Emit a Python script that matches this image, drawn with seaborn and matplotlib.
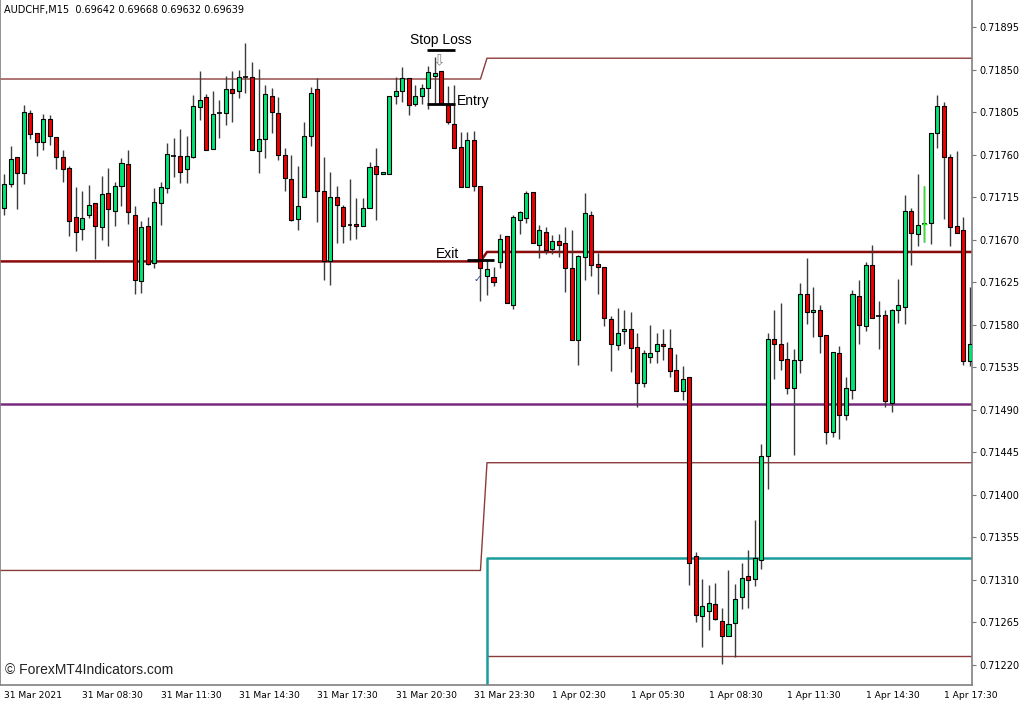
import numpy as np
import pandas as pd
import matplotlib
matplotlib.use("Agg")
import matplotlib.pyplot as plt
import seaborn as sns

# AUDCHF M15 candles, prices in 1e-5 units (71703 -> 0.71703)
opens = [71703, 71729, 71757, 71741, 71804, 71783, 71773, 71798, 71779, 71758,
         71746, 71694, 71681, 71696, 71709, 71683, 71719, 71700, 71727, 71750,
         71696, 71626, 71684, 71645, 71709, 71725, 71759, 71759, 71745, 71758,
         71810, 71821, 71766, 71804, 71804, 71829, 71827, 71842, 71842, 71764,
         71776, 71822, 71804, 71760, 71734, 71692, 71715, 71780, 71829, 71721,
         71647, 71715, 71705, 71685, 71687, 71684, 71704, 71748, 71739, 71740,
         71822, 71827, 71841, 71814, 71822, 71831, 71843, 71848, 71813, 71792,
         71768, 71726, 71775, 71727, 71632, 71631, 71646, 71674, 71601, 71691,
         71693, 71720, 71664, 71678, 71660, 71669, 71666, 71640, 71564, 71652,
         71696, 71644, 71641, 71586, 71559, 71573, 71576, 71556, 71518, 71546,
         71552, 71560, 71555, 71532, 71510, 71525, 71335, 71272, 71277, 71285,
         71266, 71251, 71264, 71292, 71314, 71311, 71331, 71441, 71565, 71560,
         71544, 71513, 71543, 71612, 71593, 71596, 71569, 71466, 71550, 71484,
         71511, 71610, 71579, 71643, 71589, 71590, 71497, 71596, 71599, 71700,
         71676, 71687, 71688, 71783, 71811, 71758, 71684, 71680, 71542]
highs = [71740, 71769, 71757, 71812, 71807, 71783, 71803, 71802, 71779, 71765,
         71748, 71726, 71721, 71728, 71709, 71737, 71746, 71731, 71756, 71765,
         71706, 71690, 71694, 71725, 71731, 71772, 71778, 71787, 71780, 71823,
         71848, 71824, 71827, 71818, 71843, 71849, 71850, 71878, 71858, 71851,
         71834, 71830, 71821, 71767, 71760, 71748, 71795, 71832, 71841, 71757,
         71742, 71727, 71707, 71734, 71714, 71714, 71752, 71767, 71742, 71822,
         71842, 71853, 71841, 71834, 71835, 71854, 71863, 71848, 71833, 71834,
         71784, 71784, 71785, 71727, 71648, 71641, 71676, 71674, 71696, 71700,
         71722, 71720, 71685, 71683, 71675, 71676, 71683, 71680, 71654, 71719,
         71700, 71656, 71641, 71589, 71598, 71596, 71593, 71571, 71553, 71580,
         71571, 71575, 71575, 71549, 71536, 71525, 71340, 71311, 71305, 71307,
         71280, 71320, 71306, 71328, 71342, 71373, 71454, 71571, 71596, 71603,
         71562, 71554, 71624, 71651, 71620, 71601, 71569, 71551, 71557, 71525,
         71617, 71627, 71646, 71664, 71605, 71596, 71597, 71628, 71717, 71704,
         71739, 71727, 71783, 71823, 71816, 71761, 71764, 71694, 71620]
lows = [71696, 71726, 71702, 71729, 71776, 71759, 71765, 71770, 71745, 71731,
        71674, 71658, 71670, 71693, 71650, 71670, 71663, 71684, 71706, 71687,
        71612, 71614, 71643, 71640, 71685, 71719, 71736, 71730, 71730, 71756,
        71797, 71765, 71766, 71778, 71791, 71795, 71820, 71825, 71765, 71741,
        71756, 71783, 71754, 71722, 71690, 71680, 71715, 71769, 71689, 71627,
        71622, 71666, 71666, 71670, 71671, 71684, 71703, 71691, 71739, 71740,
        71814, 71816, 71802, 71811, 71814, 71808, 71814, 71815, 71792, 71767,
        71726, 71726, 71721, 71605, 71611, 71621, 71640, 71603, 71597, 71676,
        71688, 71666, 71651, 71655, 71655, 71652, 71615, 71564, 71537, 71627,
        71632, 71613, 71579, 71531, 71553, 71560, 71530, 71493, 71514, 71539,
        71539, 71543, 71525, 71510, 71500, 71305, 71265, 71239, 71257, 71268,
        71221, 71251, 71228, 71279, 71280, 71304, 71322, 71406, 71523, 71532,
        71507, 71442, 71529, 71581, 71567, 71550, 71454, 71461, 71459, 71479,
        71501, 71560, 71573, 71587, 71554, 71493, 71488, 71582, 71581, 71643,
        71663, 71668, 71665, 71767, 71692, 71663, 71677, 71537, 71536]
closes = [71729, 71755, 71741, 71805, 71782, 71773, 71798, 71780, 71758, 71745,
          71690, 71678, 71693, 71707, 71684, 71718, 71702, 71727, 71751, 71699,
          71627, 71683, 71644, 71710, 71726, 71761, 71759, 71742, 71759, 71811,
          71818, 71765, 71803, 71804, 71829, 71825, 71842, 71842, 71765, 71776,
          71824, 71805, 71760, 71735, 71691, 71706, 71780, 71825, 71721, 71647,
          71715, 71707, 71684, 71685, 71684, 71703, 71747, 71739, 71742, 71822,
          71827, 71841, 71812, 71822, 71830, 71847, 71846, 71815, 71794, 71767,
          71726, 71775, 71727, 71640, 71639, 71625, 71671, 71603, 71694, 71699,
          71719, 71666, 71680, 71659, 71669, 71664, 71640, 71564, 71653, 71698,
          71643, 71641, 71587, 71560, 71571, 71576, 71555, 71518, 71550, 71550,
          71560, 71558, 71531, 71510, 71523, 71328, 71273, 71282, 71286, 71269,
          71251, 71263, 71290, 71312, 71310, 71333, 71441, 71565, 71560, 71543,
          71513, 71543, 71613, 71594, 71596, 71568, 71467, 71551, 71485, 71513,
          71613, 71580, 71643, 71587, 71589, 71499, 71596, 71601, 71700, 71677,
          71685, 71687, 71783, 71811, 71757, 71683, 71677, 71542, 71560]

# indicator levels: (before signal, after signal)
upper_band = [0.71840, 0.71862]
mid_line = [0.71647, 0.71657]
lower_band = [0.71320, 0.71434]
pivot_line = 0.71496
target_line = 0.71333
bottom_line = 0.71229
signal_bar = 73

tick_labels = ["31 Mar 2021", "31 Mar 08:30", "31 Mar 11:30", "31 Mar 14:30",
               "31 Mar 17:30", "31 Mar 20:30", "31 Mar 23:30", "1 Apr 02:30",
               "1 Apr 05:30", "1 Apr 08:30", "1 Apr 11:30", "1 Apr 14:30",
               "1 Apr 17:30"]
price_ticks = [0.71220, 0.71265, 0.71310, 0.71355, 0.71400, 0.71445, 0.71490,
               0.71535, 0.71580, 0.71625, 0.71670, 0.71715, 0.71760, 0.71805,
               0.71850, 0.71895]

df = pd.DataFrame({"open": opens, "high": highs, "low": lows, "close": closes}) / 1e5
df["idx"] = np.arange(len(df))

sns.set_style("white")
plt.rcParams["font.family"] = ["DejaVu Sans"]

fig = plt.figure(figsize=(10.24, 7.05), dpi=100)
ax = fig.add_axes([0, 20 / 705, 972 / 1024, 685 / 705])

xmin, xmax = -0.613, 148.31
ymin, ymax = 0.711988, 0.719236

# indicator lines
s = signal_bar
lines = [
    ([xmin, s, s + 1, xmax], [upper_band[0], upper_band[0], upper_band[1], upper_band[1]], "#8c3b3b", 1.0),
    ([xmin, s, s + 1, xmax], [lower_band[0], lower_band[0], lower_band[1], lower_band[1]], "#8c3b3b", 1.0),
    ([s + 1, xmax], [bottom_line, bottom_line], "#8c3b3b", 1.0),
    ([xmin, s, s + 1, xmax], [mid_line[0], mid_line[0], mid_line[1], mid_line[1]], "#8b0a0a", 1.8),
    ([xmin, xmax], [pivot_line, pivot_line], "#7a2a7e", 1.8),
    ([s + 1, s + 1, xmax], [ymin, target_line, target_line], "#1a9c9c", 1.8),
]
for xs, ys, col, lw in lines:
    sns.lineplot(x=xs, y=ys, ax=ax, color=col, linewidth=lw, sort=False,
                 estimator=None, zorder=1)

# candles
ax.vlines(df["idx"], df["low"], df["high"], color="#3c3c3c", linewidth=1.0, zorder=2)
body = df["close"] - df["open"]
up = body > 0.000015
down = body < -0.000015
doji = ~(up | down)
ax.bar(df["idx"][up], body[up], bottom=df["open"][up], width=0.62,
       color="#00e676", edgecolor="black", linewidth=0.8, zorder=3)
ax.bar(df["idx"][down], body[down], bottom=df["open"][down], width=0.62,
       color="#ee0000", edgecolor="black", linewidth=0.8, zorder=3)
ax.hlines(df["close"][doji], df["idx"][doji] - 0.35, df["idx"][doji] + 0.35,
          color="black", linewidth=1.2, zorder=3)

# current bar marker (bright green)
cb = 141
ax.vlines(cb, df["low"][cb], df["high"][cb], color="#22ee22", linewidth=1.0, zorder=4)
ax.hlines(df["close"][cb], cb - 0.35, cb + 0.35, color="#22ee22", linewidth=1.0, zorder=4)

# trade annotations
ax.hlines(0.71871, 64.8, 69.1, color="black", linewidth=2, zorder=5)
ax.hlines(0.71814, 64.8, 69.1, color="black", linewidth=2, zorder=5)
ax.hlines(0.71649, 70.9, 75.0, color="black", linewidth=2, zorder=5)
ax.text(66.95, 0.71881, "Stop Loss", ha="center", va="center", fontsize=10,
        family="Liberation Sans", color="black", zorder=6)
ax.text(69.4, 0.71817, "Entry", ha="left", va="center", fontsize=10,
        family="Liberation Sans", color="black", zorder=6)
ax.text(66.2, 0.71655, "Exit", ha="left", va="center", fontsize=10,
        family="Liberation Sans", color="black", zorder=6)
ax.text(66.6, 0.71859, "\u21e9", ha="center", va="center", fontsize=11,
        color="#8a8a8a", zorder=6)
ax.text(72.6, 0.71628, "\u2713", ha="center", va="center", fontsize=7,
        color="#1f3f8f", zorder=6)

ax.set_xlim(xmin, xmax)
ax.set_ylim(ymin, ymax)

ax.set_xticks(np.arange(0, 145, 12))
ax.set_xticklabels(tick_labels, fontsize=6.6, ha="left")
ax.set_yticks(price_ticks)
ax.set_yticklabels([f"{p:.5f}" for p in price_ticks], fontsize=7)
ax.yaxis.tick_right()
ax.tick_params(axis="both", direction="out", length=3, width=0.8, color="#777777",
               labelcolor="black", pad=2)
ax.tick_params(axis="x", pad=1)
ax.set_xlabel("")
ax.set_ylabel("")
for side in ["left", "right", "bottom"]:
    ax.spines[side].set_color("#808080")
    ax.spines[side].set_linewidth(1.2)
ax.spines["top"].set_visible(False)

ax.text(0.004, 0.985, "AUDCHF,M15  0.69642 0.69668 0.69632 0.69639",
        transform=ax.transAxes, fontsize=7, va="center", ha="left", color="black")
ax.text(0.005, 0.012, "\u00a9 ForexMT4Indicators.com", transform=ax.transAxes,
        fontsize=10, family="Liberation Sans", va="bottom", ha="left", color="#222222")

fig.savefig("out.png", dpi=100)
